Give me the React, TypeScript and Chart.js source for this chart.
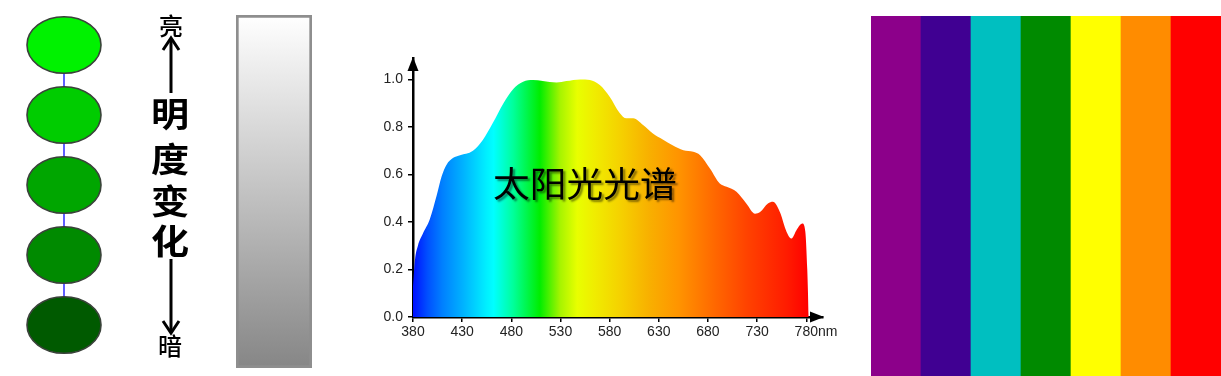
import React, { useEffect, useRef } from "react";
import { Chart, registerables } from "chart.js";

Chart.register(...registerables);

// ---- brightness circles (left) ----
const brightnessLevels = [5, 4, 3, 2, 1];
const circleColors = ["#00f200", "#00cc00", "#00a600", "#008a00", "#005a00"];

// ---- gray brightness bar ----
const grayLabels = ["明度"];
const grayValues = [1];

// ---- solar spectrum ----
const wavelengths = [
  380, 382, 385, 390, 397, 404, 409, 414, 421, 427, 441, 451, 461, 472, 482, 492,
  502, 512, 526, 536, 550, 560, 570, 580, 590, 597, 604, 614, 624, 634, 644, 655,
  665, 672, 682, 692, 699, 709, 719, 728, 733, 741, 746, 753, 760, 765, 770, 776,
  779, 781, 782.5,
];
const intensity = [
  0.13, 0.24, 0.3, 0.35, 0.41, 0.51, 0.59, 0.64, 0.67, 0.68, 0.7, 0.745, 0.815, 0.9, 0.96, 0.99,
  0.997, 0.993, 0.987, 0.993, 1.0, 0.997, 0.976, 0.927, 0.86, 0.836, 0.836, 0.808, 0.772, 0.747, 0.723, 0.702,
  0.695, 0.681, 0.625, 0.562, 0.548, 0.527, 0.478, 0.435, 0.442, 0.478, 0.485, 0.443, 0.358, 0.33, 0.365, 0.393,
  0.36, 0.2, 0.0,
];
const xTicks = [380, 430, 480, 530, 580, 630, 680, 730, 780];
const yTicks = [0, 0.2, 0.4, 0.6, 0.8, 1.0];
const stopWavelengths = [380, 395, 410, 430, 455, 462, 482, 509, 530, 547, 565, 592, 620, 650, 685, 720, 760, 782];
const stopColors = [
  "#0010ff", "#0050ff", "#0080ff", "#00b0ff", "#00f0ff", "#00ffff", "#00ff9a", "#00ee00",
  "#a8f400", "#e8ff00", "#f0ec00", "#f5d000", "#f8b000", "#ff9400", "#ff6a00", "#ff4200",
  "#ff1c00", "#ff0000",
];

// ---- colour bands (right) ----
const bandLabels = ["紫", "靛", "青", "绿", "黄", "橙", "红"];
const bandValues = [1, 1, 1, 1, 1, 1, 1];
const bandColors = ["#8c008a", "#400092", "#00bfc0", "#008a00", "#ffff00", "#ff8c00", "#ff0000"];

const tickFont = { family: '"Liberation Sans", Arial, sans-serif', size: 14 };

function makeEllipse(color: string) {
  const c = document.createElement("canvas");
  c.width = 80;
  c.height = 62;
  const g = c.getContext("2d")!;
  g.beginPath();
  g.ellipse(40, 31, 37, 28.3, 0, 0, Math.PI * 2);
  g.fillStyle = color;
  g.fill();
  g.lineWidth = 1.6;
  g.strokeStyle = "#3a423a";
  g.stroke();
  return c;
}

function CirclesChart() {
  const ref = useRef<HTMLCanvasElement>(null);
  useEffect(() => {
    const styles = circleColors.map(makeEllipse);
    const chart = new Chart(ref.current!, {
      type: "line",
      data: {
        datasets: [
          {
            data: brightnessLevels.map((v) => ({ x: 0.5, y: v })),
            borderColor: "#5f5fff",
            borderWidth: 2,
            fill: false,
            pointStyle: styles as any,
            clip: false as any,
          },
        ],
      },
      options: {
        responsive: false,
        animation: false,
        layout: { padding: { top: 10, bottom: 16, left: 0, right: 0 } },
        plugins: { legend: { display: false }, tooltip: { enabled: false } },
        scales: {
          x: { type: "linear", min: 0, max: 1, display: false },
          y: { type: "linear", min: 0.5, max: 5.5, display: false },
        },
      },
    });
    return () => chart.destroy();
  }, []);
  return <canvas ref={ref} width={128} height={376} style={{ position: "absolute", left: 0, top: 0 }} />;
}

function GrayBarChart() {
  const ref = useRef<HTMLCanvasElement>(null);
  useEffect(() => {
    const chart = new Chart(ref.current!, {
      type: "bar",
      data: {
        labels: grayLabels,
        datasets: [
          {
            data: grayValues,
            backgroundColor: (ctx: any) => {
              const a = ctx.chart.chartArea;
              if (!a) return "#cccccc";
              const g = ctx.chart.ctx.createLinearGradient(0, a.top, 0, a.bottom);
              g.addColorStop(0, "#ffffff");
              g.addColorStop(1, "#868686");
              return g;
            },
            borderColor: "#8e8e8e",
            borderWidth: 3,
            borderSkipped: false,
            barPercentage: 1,
            categoryPercentage: 1,
          },
        ],
      },
      options: {
        responsive: false,
        animation: false,
        layout: { padding: { left: 6, right: 8, top: 15, bottom: 8 } },
        plugins: { legend: { display: false }, tooltip: { enabled: false } },
        scales: { x: { display: false }, y: { display: false, min: 0, max: 1 } },
      },
    });
    return () => chart.destroy();
  }, []);
  return <canvas ref={ref} width={90} height={376} style={{ position: "absolute", left: 230, top: 0 }} />;
}

function SpectrumChart() {
  const ref = useRef<HTMLCanvasElement>(null);
  useEffect(() => {
    const arrowPlugin = {
      id: "axisArrows",
      afterDraw(chart: any) {
        const { ctx, chartArea: a, scales } = chart;
        ctx.save();
        ctx.fillStyle = "#000";
        ctx.beginPath();
        ctx.moveTo(a.left, a.top - 1);
        ctx.lineTo(a.left - 5.5, a.top + 13);
        ctx.lineTo(a.left + 5.5, a.top + 13);
        ctx.closePath();
        ctx.fill();
        ctx.beginPath();
        ctx.moveTo(a.right + 1, a.bottom);
        ctx.lineTo(a.right - 13, a.bottom - 5.5);
        ctx.lineTo(a.right - 13, a.bottom + 5.5);
        ctx.closePath();
        ctx.fill();
        const x = scales.x.getPixelForValue(780);
        ctx.font = '14px "Liberation Sans", Arial, sans-serif';
        const w = ctx.measureText("780").width;
        ctx.fillStyle = "#222";
        ctx.textBaseline = "middle";
        ctx.textAlign = "left";
        ctx.fillText("nm", x + w / 2, a.bottom + 15.4);
        ctx.restore();
      },
    };
    const chart = new Chart(ref.current!, {
      type: "line",
      data: {
        datasets: [
          {
            data: wavelengths.map((w, i) => ({ x: w, y: intensity[i] })),
            fill: "origin",
            borderWidth: 0,
            pointRadius: 0,
            cubicInterpolationMode: "monotone",
            backgroundColor: (ctx: any) => {
              const chart = ctx.chart;
              const a = chart.chartArea;
              if (!a) return "#ff8800";
              const xs = chart.scales.x;
              const g = chart.ctx.createLinearGradient(a.left, 0, a.right, 0);
              stopWavelengths.forEach((wl, i) => {
                const off = (xs.getPixelForValue(wl) - a.left) / (a.right - a.left);
                g.addColorStop(Math.min(1, Math.max(0, off)), stopColors[i]);
              });
              return g;
            },
          },
        ],
      },
      options: {
        responsive: false,
        animation: false,
        layout: { padding: { top: 18, right: 17, left: 0, bottom: 0 } },
        plugins: { legend: { display: false }, tooltip: { enabled: false } },
        scales: {
          x: {
            type: "linear",
            min: 380,
            max: 797,
            afterBuildTicks: (s: any) => {
              s.ticks = xTicks.map((v) => ({ value: v }));
            },
            afterFit: (s: any) => {
              s.height = 33;
            },
            ticks: {
              autoSkip: false,
              maxRotation: 0,
              padding: 2,
              color: "#222",
              font: tickFont,
              callback: (v: any) => String(v),
            },
            grid: { drawOnChartArea: false, drawTicks: true, tickLength: 5, color: "#000", lineWidth: 1.5 },
            border: { color: "#000", width: 2.5 },
          },
          y: {
            type: "linear",
            min: 0,
            max: 1.09,
            afterBuildTicks: (s: any) => {
              s.ticks = yTicks.map((v) => ({ value: v }));
            },
            afterFit: (s: any) => {
              s.width = 53;
            },
            ticks: {
              padding: 5,
              color: "#222",
              font: tickFont,
              callback: (v: any) => Number(v).toFixed(1),
            },
            grid: { drawOnChartArea: false, drawTicks: true, tickLength: 5, color: "#000", lineWidth: 1.5 },
            border: { color: "#000", width: 2.5 },
          },
        },
      },
      plugins: [arrowPlugin],
    });
    return () => chart.destroy();
  }, []);
  return <canvas ref={ref} width={480} height={310} style={{ position: "absolute", left: 360, top: 40 }} />;
}

function BandsChart() {
  const ref = useRef<HTMLCanvasElement>(null);
  useEffect(() => {
    const chart = new Chart(ref.current!, {
      type: "bar",
      data: {
        labels: bandLabels,
        datasets: [
          {
            data: bandValues,
            backgroundColor: bandColors,
            borderWidth: 0,
            barPercentage: 1,
            categoryPercentage: 1,
          },
        ],
      },
      options: {
        responsive: false,
        animation: false,
        layout: { padding: 0 },
        plugins: { legend: { display: false }, tooltip: { enabled: false } },
        scales: { x: { display: false }, y: { display: false, min: 0, max: 1 } },
      },
    });
    return () => chart.destroy();
  }, []);
  return <canvas ref={ref} width={350} height={360} style={{ position: "absolute", left: 871, top: 16 }} />;
}

const cjk = '"Noto Sans CJK SC", "Noto Sans", sans-serif';

function Label({ text, x, y, size, weight, sx }: { text: string; x: number; y: number; size: number; weight: number; sx?: number }) {
  return (
    <div
      style={{
        position: "absolute",
        left: x,
        top: y,
        transform: `translate(-50%, -50%) scaleX(${sx ?? 1})`,
        fontFamily: cjk,
        fontSize: size,
        fontWeight: weight,
        lineHeight: 1,
        color: "#000",
        whiteSpace: "nowrap",
      }}
    >
      {text}
    </div>
  );
}

export default function App() {
  const vertical = ["明", "度", "变", "化"];
  const vy = [113, 158, 200, 240];
  return (
    <div style={{ position: "absolute", left: 0, top: 0, width: 1221, height: 376, background: "#fff", overflow: "hidden" }}>
      <CirclesChart />
      <GrayBarChart />
      <SpectrumChart />
      <BandsChart />
      <svg width={1221} height={376} style={{ position: "absolute", left: 0, top: 0, pointerEvents: "none" }}>
        <line x1={171} y1={93} x2={171} y2={40} stroke="#000" strokeWidth={3} />
        <polyline points="163,50 171,38 179,50" fill="none" stroke="#000" strokeWidth={3} />
        <line x1={171} y1={259} x2={171} y2={331} stroke="#000" strokeWidth={3} />
        <polyline points="163,321 171,333 179,321" fill="none" stroke="#000" strokeWidth={3} />
      </svg>
      <Label text="亮" x={171} y={25} size={24} weight={500} />
      <Label text="暗" x={170} y={345} size={24} weight={500} />
      {vertical.map((c, i) => (
        <Label key={c} text={c} x={170} y={vy[i]} size={34} weight={700} sx={1.12} />
      ))}
      <div
        style={{
          position: "absolute",
          left: 585,
          top: 181,
          transform: "translate(-50%, -50%) scaleX(1.05)",
          fontFamily: cjk,
          fontSize: 35,
          lineHeight: 1,
          color: "#000",
          whiteSpace: "nowrap",
          textShadow: "2px 2px 2px rgba(0,0,0,0.45)",
        }}
      >
        太阳光光谱
      </div>
    </div>
  );
}
